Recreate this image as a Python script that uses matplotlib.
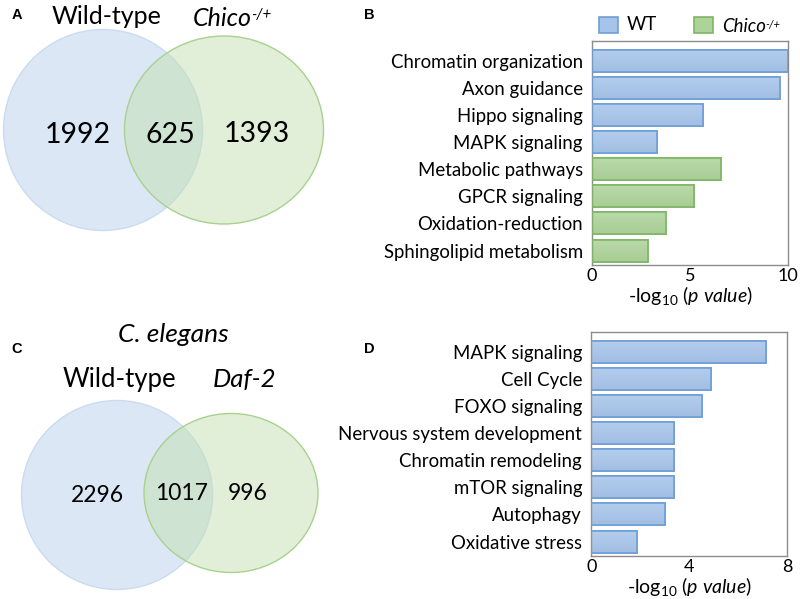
import numpy as np
import matplotlib
matplotlib.use("Agg")
import matplotlib.pyplot as plt
from matplotlib.patches import Ellipse, Rectangle

plt.rcParams['font.family'] = ['Lato', 'DejaVu Sans']
plt.rcParams['mathtext.fontset'] = 'custom'
plt.rcParams['mathtext.rm'] = 'Lato'
plt.rcParams['mathtext.it'] = 'Lato:italic'

# --- données ---
venn_a = [1992, 625, 1393]
venn_c = [2296, 1017, 996]

terms_b = ["Chromatin organization", "Axon guidance", "Hippo signaling", "MAPK signaling",
           "Metabolic pathways", "GPCR signaling", "Oxidation-reduction", "Sphingolipid metabolism"]
vals_b = [10.0, 9.6, 5.65, 3.3, 6.6, 5.2, 3.78, 2.86]
group_b = ["WT", "WT", "WT", "WT", "Chico", "Chico", "Chico", "Chico"]

terms_d = ["MAPK signaling", "Cell Cycle", "FOXO signaling", "Nervous system development",
           "Chromatin remodeling", "mTOR signaling", "Autophagy", "Oxidative stress"]
vals_d = [7.14, 4.88, 4.51, 3.38, 3.38, 3.38, 3.01, 1.87]

colors = {"WT": ("#a6c4ea", "#6f9fd6"), "Chico": ("#add39a", "#80b565")}

fig = plt.figure(figsize=(8, 5.99), dpi=100)
renderer = fig.canvas.get_renderer()

# --- Venn (coordonnées en pixels) ---
av = fig.add_axes([0, 0, 1, 1])
av.set_xlim(0, 800)
av.set_ylim(599, 0)
av.axis('off')

def chico_text(ax, x, y, fs):
    # "Chico" en italique + exposant -/+ posé à la main
    t = ax.text(x, y, "Chico", style='italic', ha='left', va='center', fontsize=fs)
    bb = t.get_window_extent(renderer)
    x1 = ax.transData.inverted().transform((bb.x1, bb.y1))
    ax.text(x1[0] - 1, x1[1] + fs * 0.1, "-/+", style='italic', ha='left', va='top',
            fontsize=fs * 0.6)

def venn(ax, c1, s1, c2, s2, counts, pos, fs):
    ax.add_patch(Ellipse(c1, s1[0], s1[1], facecolor="#dbe7f4", edgecolor="#c9dcf0", lw=1))
    ax.add_patch(Ellipse(c2, s2[0], s2[1], facecolor=(0.773, 0.878, 0.702, 0.5),
                         edgecolor="#a9d18e", lw=1))
    for n, p in zip(counts, pos):
        ax.text(p[0], p[1], str(n), ha='center', va='center', fontsize=fs, color='black')

venn(av, (103, 130), (199, 201), (224, 130), (199, 188), venn_a,
     [(78, 135), (170, 135), (257, 134)], 20.5)
av.text(107, 16, "Wild-type", ha='center', va='center', fontsize=18)
chico_text(av, 193, 18, 18)

venn(av, (117, 495), (191, 189), (231, 493), (174, 159), venn_c,
     [(97, 496), (182, 493), (248, 494)], 16.5)
av.text(173, 335, "C. elegans", style='italic', ha='center', va='center', fontsize=19)
av.text(119, 380, "Wild-type", ha='center', va='center', fontsize=18.5)
av.text(244, 380, "Daf-2", style='italic', ha='center', va='center', fontsize=18.5)

for lab, x, y in [("A", 17, 15), ("B", 369, 15), ("C", 17, 349), ("D", 369, 349)]:
    av.text(x, y, lab, ha='center', va='center', fontsize=10.5, fontweight='bold',
            family='Liberation Sans')

# --- barres ---
grad = np.linspace(0, 1, 50).reshape(-1, 1)

def bars(ax, terms, vals, groups, xmax, ticks):
    y = np.arange(len(terms))
    for yi, v, g in zip(y, vals, groups):
        fc, ec = colors[g]
        b = ax.barh(yi, v, height=0.81, color=fc, edgecolor=ec, lw=1.2, zorder=2)[0]
        top = np.array(matplotlib.colors.to_rgb(fc)) * 0.85 + 0.15
        bot = np.array(matplotlib.colors.to_rgb(fc)) * 0.97
        img = top + (bot - top) * grad[:, :, None]
        im = ax.imshow(img, extent=(0, v, yi + 0.405, yi - 0.405), aspect='auto', zorder=2.5)
        im.set_clip_path(b)
        ax.add_patch(Rectangle((0, yi - 0.405), v, 0.81, fill=False, edgecolor=ec, lw=1.2, zorder=3))
    ax.set_xlim(0, xmax)
    ax.set_ylim(len(terms) - 1 + 0.53, -0.72)
    ax.set_yticks(y)
    ax.set_yticklabels(terms, fontsize=13.4)
    ax.set_xticks(ticks)
    ax.tick_params(axis='y', length=0, pad=6.5)
    ax.tick_params(axis='x', length=0, labelsize=13, pad=2)
    for s in ax.spines.values():
        s.set_color('#8c8c8c')
        s.set_linewidth(1.0)
    ax.set_xlabel(r"-log$_{10}$ ($\mathit{p\ value}$)", fontsize=14, labelpad=0)

ab = fig.add_axes([0.74, 0.5576, 0.245, 0.374])
bars(ab, terms_b, vals_b, group_b, 10, [0, 5, 10])

ad = fig.add_axes([0.739, 0.0718, 0.245, 0.374])
bars(ad, terms_d, vals_d, ["WT"] * 8, 8, [0, 4, 8])

# légende (dessinée à la main, coordonnées pixels)
for g, x in [("WT", 599), ("Chico", 694)]:
    fc, ec = colors[g]
    av.add_patch(Rectangle((x, 17), 19, 16, facecolor=fc, edgecolor=ec, lw=1.2))
av.text(627, 25, "WT", ha='left', va='center', fontsize=13.4)
chico_text(av, 722, 26, 13.4)

fig.savefig("out.png", dpi=100)
